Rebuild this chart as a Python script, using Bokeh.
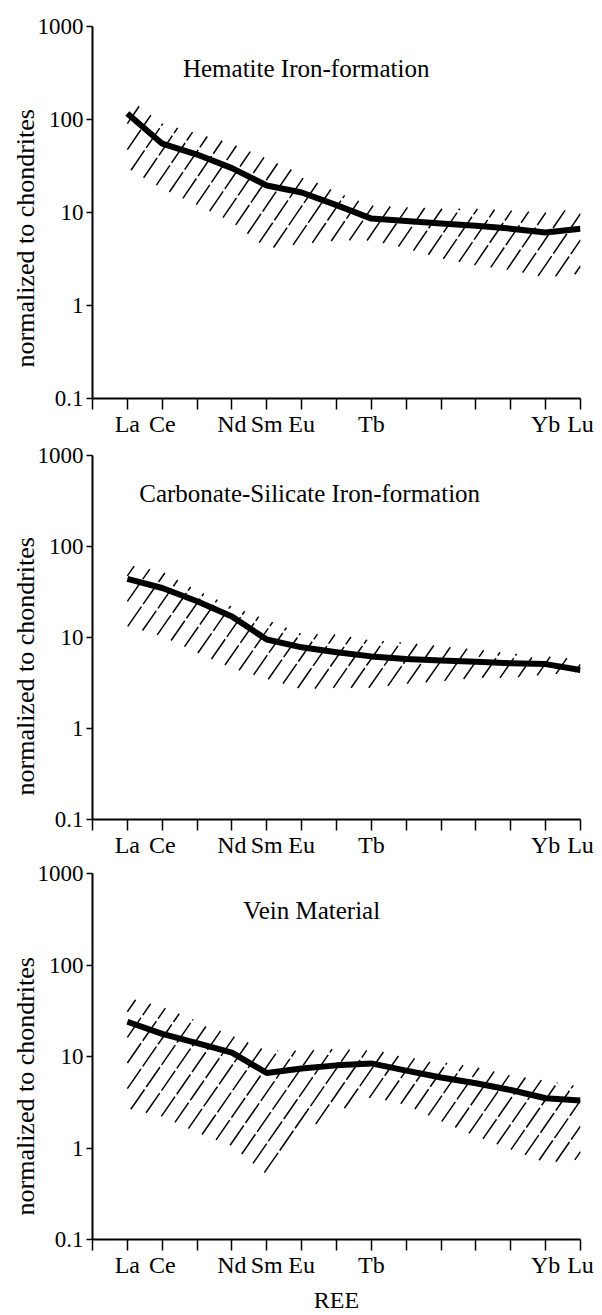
import numpy as np
from bokeh.plotting import figure
from bokeh.layouts import column
from bokeh.models import FixedTicker, CustomJSTickFormatter, Label, Title
from bokeh.embed import file_html
from bokeh.resources import INLINE

# ---------------- data ----------------
elements = ["La", "Ce", "Pr", "Nd", "Sm", "Eu", "Gd", "Tb", "Dy", "Ho", "Er", "Tm", "Yb", "Lu"]
positions = list(range(1, 15))
shown_labels = ["La", "Ce", "Nd", "Sm", "Eu", "Tb", "Yb", "Lu"]
y_ticks = [0.1, 1, 10, 100, 1000]

titles = ["Hematite Iron-formation", "Carbonate-Silicate Iron-formation", "Vein Material"]
y_label = "normalized to chondrites"
x_label = "REE"

hematite_mean = [116, 55, 42, 30, 19.5, 16.4, 12, 8.6, 8.1, 7.6, 7.2, 6.7, 6.1, 6.7]
hematite_upper = [172, 91, 71, 55, 38, 26, 16.5, 11.9, 11.4, 11, 11, 10.5, 10, 11]
hematite_lower = [30, 18, 12, 7.9, 4.1, 4.6, 5.0, 5.0, 4.1, 3.2, 2.7, 2.4, 2.0, 2.2]

carbsil_mean = [44, 35, 25, 17, 9.5, 7.8, 6.9, 6.2, 5.8, 5.6, 5.4, 5.2, 5.1, 4.4]
carbsil_upper = [63, 53, 33, 22, 15.7, 11, 10.8, 9.3, 8.8, 8.0, 7.4, 6.7, 6.25, 5.75]
carbsil_lower = [13.3, 10.3, 6.8, 4.6, 3.5, 2.7, 2.8, 2.8, 3.1, 3.3, 3.6, 3.6, 3.9, 4.2]

vein_mean = [24, 17.7, 14, 11, 6.6, 7.4, 8.0, 8.4, 7.0, 5.9, 5.1, 4.3, 3.5, 3.3]
vein_upper = [44, 35, 24.5, 17, 11.6, 11.6, 12.1, 11.6, 10.5, 8.7, 7.7, 6.2, 5.5, 4.7]
vein_lower = [2.7, 2.2, 1.47, 1.05, 0.51, 1.47, 2.5, 3.6, 2.95, 1.95, 1.34, 0.96, 0.69, 0.75]

panels = [
    (titles[0], hematite_mean, hematite_upper, hematite_lower),
    (titles[1], carbsil_mean, carbsil_upper, carbsil_lower),
    (titles[2], vein_mean, vein_upper, vein_lower),
]

# ---------------- styles ----------------
FONT = "Liberation Serif"
layouts = [
    dict(height=442, top=26, bottom=44, left=92, right=17, title_x=6.13, title_y=353, ylab_off=31),
    dict(height=418, top=13, bottom=39, left=88, right=20, title_x=6.23, title_y=385, ylab_off=24),
    dict(height=455, top=13, bottom=74, left=86, right=22, title_x=6.29, title_y=398, ylab_off=24),
]
HATCH_K = 0.55      # slope of hatch lines (decades per element step)
HATCH_DC = 0.28     # spacing between hatch lines (decades)

x_tick_names = [el if el in shown_labels else "" for el in elements]


def hatch_segments(lower, upper):
    xs = np.linspace(positions[0], positions[-1], 5201)
    lo = np.interp(xs, positions, np.log10(lower))
    hi = np.interp(xs, positions, np.log10(upper))
    cvals = np.arange((lo - HATCH_K * xs).min() + HATCH_DC * 0.3, (hi - HATCH_K * xs).max(), HATCH_DC)
    sx, sy = [], []
    for c in cvals:
        ly = HATCH_K * xs + c
        inside = (ly >= lo) & (ly <= hi)
        if not inside.any():
            continue
        d = np.diff(np.concatenate([[0], inside.astype(int), [0]]))
        starts = np.where(d == 1)[0]
        ends = np.where(d == -1)[0] - 1
        for s, e in zip(starts, ends):
            if xs[e] - xs[s] < 0.04:
                continue
            sx.append([float(xs[s]), float(xs[e])])
            sy.append([float(10 ** (HATCH_K * xs[s] + c)), float(10 ** (HATCH_K * xs[e] + c))])
    return sx, sy


figs = []
for i, ((title, mean, upper, lower), lay) in enumerate(zip(panels, layouts)):
    p = figure(width=602, height=lay["height"], x_range=(0, 14), y_range=(0.1, 1000),
               y_axis_type="log", output_backend="svg", toolbar_location=None,
               min_border_left=lay["left"], min_border_right=lay["right"],
               min_border_top=lay["top"], min_border_bottom=lay["bottom"])
    p.outline_line_color = None
    p.xgrid.visible = False
    p.ygrid.visible = False
    p.background_fill_color = "white"
    p.border_fill_color = "white"

    # y axis
    p.yaxis.ticker = FixedTicker(ticks=y_ticks, minor_ticks=[])
    p.yaxis.formatter = CustomJSTickFormatter(code="return String(tick);")
    p.yaxis.major_tick_out = 6
    p.yaxis.major_tick_in = 0
    p.yaxis.minor_tick_out = 0
    p.yaxis.minor_tick_in = 0
    p.yaxis.axis_line_width = 2
    p.yaxis.major_tick_line_width = 1.5
    p.yaxis.major_label_standoff = 3
    p.yaxis.major_label_text_font = FONT
    p.yaxis.major_label_text_font_size = "23px"
    p.yaxis.major_label_text_color = "black"

    # x axis
    p.xaxis.ticker = FixedTicker(ticks=[0] + positions, minor_ticks=[])
    p.xaxis.formatter = CustomJSTickFormatter(args=dict(names=x_tick_names),
                                              code="const i = Math.round(tick); return (i >= 1 && i <= names.length) ? names[i-1] : '';")
    p.xaxis.major_tick_out = 11
    p.xaxis.major_tick_in = 0
    p.xaxis.minor_tick_out = 0
    p.xaxis.minor_tick_in = 0
    p.xaxis.axis_line_width = 2
    p.xaxis.major_tick_line_width = 1.5
    p.xaxis.major_label_standoff = 1
    p.xaxis.major_label_text_font = FONT
    p.xaxis.major_label_text_font_size = "24px"
    p.xaxis.major_label_text_color = "black"

    if i == 2:
        p.xaxis.axis_label = x_label
        p.xaxis.axis_label_text_font = FONT
        p.xaxis.axis_label_text_font_size = "24px"
        p.xaxis.axis_label_text_font_style = "normal"
        p.xaxis.axis_label_text_color = "black"
        p.xaxis.axis_label_standoff = 6

    # y-axis label as a side title (allows an offset along the axis)
    p.add_layout(Title(text=y_label, align="left", offset=lay["ylab_off"], standoff=-10,
                       text_font=FONT, text_font_size="26px", text_font_style="normal",
                       text_color="black"), "left")

    # hatched range
    hx, hy = hatch_segments(lower, upper)
    p.multi_line(hx, hy, line_color="black", line_width=1.5, line_dash="24 3")

    # mean pattern
    p.line(positions, mean, line_color="black", line_width=6, line_join="round")

    # title inside the panel
    p.add_layout(Label(x=lay["title_x"], y=lay["title_y"], text=title, text_align="center",
                       text_baseline="middle", text_font=FONT, text_font_size="25px",
                       text_color="black"))
    figs.append(p)

layout = column(*figs, spacing=0)
open("out.html", "w").write(file_html(layout, INLINE))
